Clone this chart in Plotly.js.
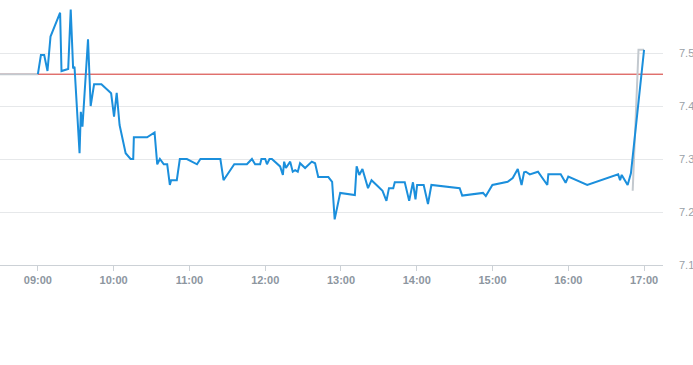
<!DOCTYPE html>
<html><head><meta charset="utf-8">
<script src="https://cdn.plot.ly/plotly-3.0.1.min.js"></script>
<style>html,body{margin:0;padding:0;background:#fff}#c{width:693px;height:365px}</style>
</head><body><div id="c"></div>
<script>
const day = '2024-01-02 ';
const priceTimes = ['09:00','09:02.4','09:05','09:07.6','09:10','09:11','09:17.6','09:18.7','09:24','09:26','09:27.9','09:29','09:33','09:34','09:35.3','09:39.7','09:41.8','09:44.5','09:50.3','09:58','10:00.3','10:02.4','10:04.7','10:09.5','10:13.4','10:15.5','10:16','10:26.5','10:32.4','10:34.5','10:36.6','10:39.7','10:42.4','10:44.5','10:45.5','10:50','10:52.4','10:58','11:06','11:08.7','11:24.5','11:27','11:35.5','11:45.5','11:49.5','11:52','11:56','11:57','12:00','12:01.4','12:03.4','12:05.3','12:11.8','12:14','12:15','12:16.4','12:19.8','12:21.8','12:23.7','12:25.8','12:27.6','12:31.6','12:36.9','12:39.5','12:42','12:50','12:53','12:55','12:59.4','13:11','13:12.4','13:14.5','13:17','13:21.4','13:24.2','13:29.4','13:32.9','13:36','13:38','13:41.4','13:42.6','13:50.5','13:54','13:57','13:59','14:00.3','14:05.5','14:08.9','14:11.6','14:34','14:36','14:52.5','14:54.7','14:59.9','15:12','15:16','15:20','15:23','15:25','15:26.4','15:29.5','15:36','15:43.4','15:44.2','15:54','15:57.9','16:00','16:15','16:39.5','16:41','16:42.3','16:47','16:49.6','17:00'];
const priceValues = [7.46,7.496,7.496,7.466,7.531,7.537,7.576,7.466,7.47,7.582,7.471,7.474,7.311,7.389,7.361,7.526,7.40,7.441,7.441,7.424,7.38,7.425,7.364,7.311,7.30,7.30,7.341,7.341,7.35,7.29,7.30,7.29,7.29,7.251,7.26,7.26,7.30,7.30,7.29,7.30,7.30,7.26,7.29,7.29,7.30,7.29,7.29,7.30,7.30,7.29,7.30,7.30,7.286,7.27,7.295,7.283,7.295,7.276,7.279,7.276,7.292,7.283,7.295,7.292,7.266,7.266,7.257,7.186,7.236,7.232,7.286,7.27,7.281,7.245,7.26,7.248,7.24,7.221,7.245,7.245,7.256,7.256,7.221,7.256,7.224,7.251,7.251,7.215,7.251,7.245,7.231,7.236,7.23,7.251,7.257,7.264,7.281,7.251,7.275,7.276,7.271,7.276,7.251,7.271,7.271,7.255,7.267,7.251,7.271,7.26,7.27,7.251,7.273,7.506];
const extTimes = ['08:30','09:00',null,'16:51','16:55.6','17:00'];
const extValues = [7.46,7.46,null,7.24,7.506,7.506];
const prevClose = 7.46;
const yTicks = [7.1,7.2,7.3,7.4,7.5];

function toDate(t){
  if(t===null) return null;
  const [h,m] = t.split(':');
  const mm = parseFloat(m);
  const mi = Math.floor(mm), s = Math.round((mm-mi)*60);
  return day + h + ':' + String(mi).padStart(2,'0') + ':' + String(s).padStart(2,'0');
}

const traces = [
  {x: extTimes.map(toDate), y: extValues, type:'scatter', mode:'lines', connectgaps:false,
   line:{color:'#c3c9cf', width:2}, hoverinfo:'skip'},
  {x: priceTimes.map(toDate), y: priceValues, type:'scatter', mode:'lines',
   line:{color:'#1b8fdc', width:2}}
];
const xFont = {family:'Liberation Sans, Arial, sans-serif', size:11, color:'#8d969f', weight:'bold'};
const yFont = {family:'Liberation Sans, Arial, sans-serif', size:11, color:'#9aa1a8'};
const layout = {
  width:693, height:365, margin:{l:0, r:30, t:0, b:100},
  paper_bgcolor:'#fff', plot_bgcolor:'#fff', showlegend:false,
  xaxis:{type:'date', range:[day+'08:30:00', day+'17:15:00'], dtick:3600000, tick0:day+'09:00:00',
    tickformat:'%H:%M', showgrid:false, showline:true, linecolor:'#ccd1d6', linewidth:1,
    ticks:'outside', ticklen:5, tickcolor:'#ccd1d6', tickfont:xFont, zeroline:false, fixedrange:true},
  yaxis:{side:'right', range:[7.1,7.6], tickvals:yTicks, ticktext:yTicks.map(v=>v.toFixed(1)),
    showgrid:true, gridcolor:'#e6e8ea', gridwidth:1, zeroline:false, showline:false, ticks:'',
    tickfont:yFont, ticklabelstandoff:15, fixedrange:true},
  shapes:[{type:'line', xref:'paper', x0:0, x1:1, yref:'y', y0:prevClose, y1:prevClose,
    line:{color:'#d3302c', width:1}, layer:'below'}]
};
Plotly.newPlot('c', traces, layout, {displayModeBar:false, staticPlot:true});
</script></body></html>
